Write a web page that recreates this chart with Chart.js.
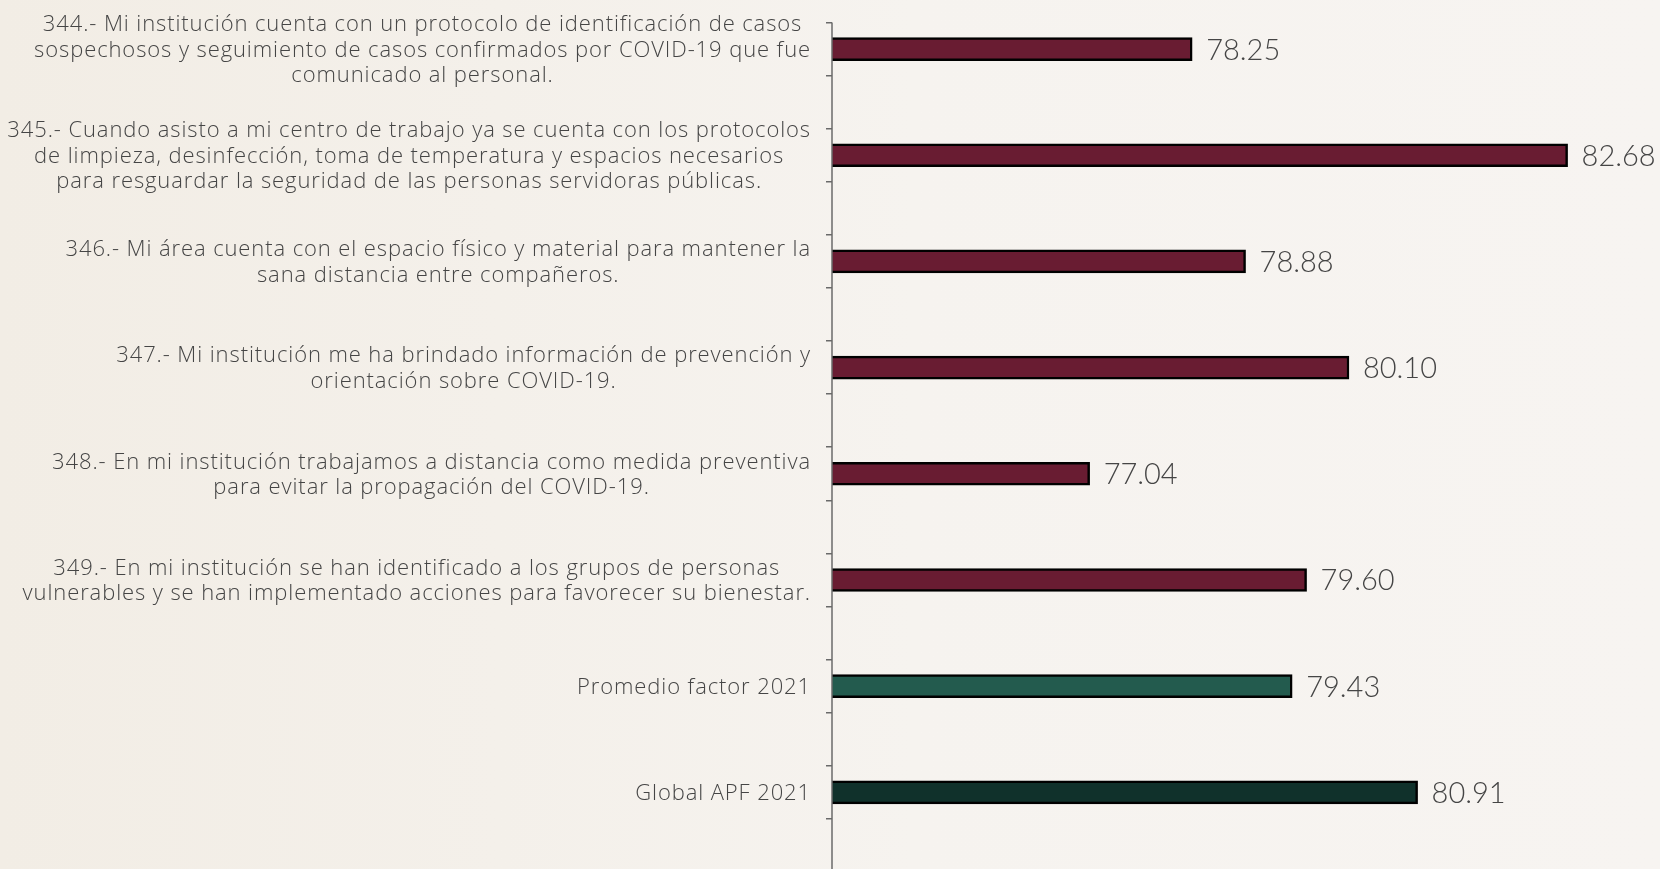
<!DOCTYPE html>
<html lang="es">
<head>
<meta charset="utf-8">
<title>Factor COVID-19</title>
<script src="https://cdn.jsdelivr.net/npm/chart.js@4.4.0/dist/chart.umd.min.js"></script>
<style>
  html, body { margin: 0; padding: 0; }
  body {
    width: 1660px; height: 869px; overflow: hidden; position: relative;
    background: linear-gradient(90deg, #f2ede5 0%, #f4f0ea 30%, #f6f3ef 55%, #f7f4f1 100%);
  }
  #wrap { position: absolute; left: 0; top: -4px; width: 1660px; height: 880px; }
</style>
</head>
<body>
<div id="wrap"><canvas id="chart"></canvas></div>
<script>
// data
const categories = [
    ['344.- Mi institución cuenta con un protocolo de identificación de casos',
     'sospechosos y seguimiento de casos confirmados por COVID-19 que fue',
     'comunicado al personal.'],
    ['345.- Cuando asisto a mi centro de trabajo ya se cuenta con los protocolos',
     'de limpieza, desinfección, toma de temperatura y espacios necesarios',
     'para resguardar la seguridad de las personas servidoras públicas.'],
    ['346.- Mi área cuenta con el espacio físico y material para mantener la',
     'sana distancia entre compañeros.'],
    ['347.- Mi institución me ha brindado información de prevención y',
     'orientación sobre COVID-19.'],
    ['348.- En mi institución trabajamos a distancia como medida preventiva',
     'para evitar la propagación del COVID-19.'],
    ['349.- En mi institución se han identificado a los grupos de personas',
     'vulnerables y se han implementado acciones para favorecer su bienestar.'],
    ['Promedio factor 2021'],
    ['Global APF 2021']
];
const values = [78.25, 82.68, 78.88, 80.10, 77.04, 79.60, 79.43, 80.91];
const barColors = ['#691c32', '#691c32', '#691c32', '#691c32', '#691c32', '#691c32', '#235b4e', '#10312b'];

const textColor = '#454545';
const axisColor = '#6a6a6a';

// tick marks sit a quarter category above and below each bar
const tickVals = [];
categories.forEach((c, i) => { tickVals.push(2 * i + 0.5, 2 * i + 1.5); });

const sideLabels = {
    id: 'sideLabels',
    afterDraw(chart) {
        const ctx = chart.ctx;
        const yScale = chart.scales.y;
        const lineGap = 25.5;
        ctx.save();
        ctx.font = '300 22px "Open Sans"';
        ctx.letterSpacing = '0.9px';
        ctx.fillStyle = textColor;
        ctx.textAlign = 'center';
        ctx.textBaseline = 'alphabetic';
        categories.forEach((lines, i) => {
            const y = yScale.getPixelForTick(i);
            const widest = Math.max(...lines.map(l => ctx.measureText(l).width));
            const cx = yScale.right - 21 - widest / 2;
            const y0 = y - (lines.length - 1) * lineGap / 2;
            lines.forEach((l, k) => ctx.fillText(l, cx, y0 + k * lineGap + 7.5));
        });
        // axis line
        const y2 = chart.scales.y2;
        ctx.strokeStyle = axisColor;
        ctx.lineWidth = 1.5;
        ctx.beginPath();
        ctx.moveTo(chart.chartArea.left, y2.getPixelForValue(tickVals[0]));
        ctx.lineTo(chart.chartArea.left, chart.height);
        ctx.stroke();
        ctx.restore();
    }
};

const valueLabels = {
    id: 'valueLabels',
    afterDatasetsDraw(chart) {
        const ctx = chart.ctx;
        const meta = chart.getDatasetMeta(0);
        ctx.save();
        ctx.font = '300 29px Lato';
        ctx.fillStyle = textColor;
        ctx.textAlign = 'left';
        ctx.textBaseline = 'alphabetic';
        meta.data.forEach((bar, i) => {
            ctx.fillText(values[i].toFixed(2), bar.x + 14, bar.y + 10.5);
        });
        ctx.restore();
    }
};

new Chart(document.getElementById('chart'), {
    type: 'bar',
    data: {
        labels: categories,
        datasets: [{
            data: values,
            backgroundColor: barColors,
            borderColor: '#000000',
            borderWidth: 2.5,
            borderSkipped: false,
            barThickness: 23
        }]
    },
    options: {
        indexAxis: 'y',
        responsive: true,
        maintainAspectRatio: false,
        animation: false,
        layout: { padding: { top: 0, right: 22.9, bottom: 30.6, left: 0 } },
        plugins: { legend: { display: false }, tooltip: { enabled: false } },
        scales: {
            x: { type: 'linear', min: 74, max: 83.5, display: false },
            y: {
                type: 'category',
                position: 'left',
                weight: 10,
                grid: { display: false },
                border: { display: false },
                ticks: { display: false },
                afterFit: (axis) => { axis.width = 832; }
            },
            y2: {
                type: 'linear',
                position: 'left',
                weight: 0,
                min: 0,
                max: 16,
                reverse: true,
                offset: false,
                border: { display: false },
                grid: { offset: false, drawOnChartArea: false, drawTicks: true, tickLength: 6, color: axisColor, lineWidth: 1.5 },
                ticks: { display: false },
                afterBuildTicks: (axis) => { axis.ticks = tickVals.map(v => ({ value: v })); },
                afterFit: (axis) => { axis.width = 0; }
            }
        }
    },
    plugins: [sideLabels, valueLabels]
});
</script>
</body>
</html>
